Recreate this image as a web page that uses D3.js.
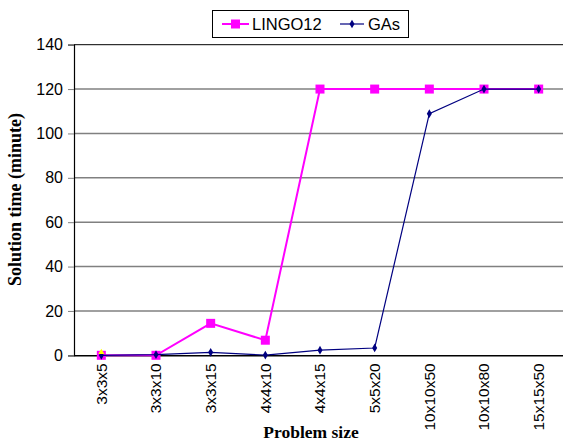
<!DOCTYPE html>
<html>
<head>
<meta charset="utf-8">
<script src="https://cdn.jsdelivr.net/npm/d3@7"></script>
<style>
  body { margin: 0; background: #fff; }
  svg { display: block; }
</style>
</head>
<body>
<svg id="chart" width="563" height="442"></svg>
<script>
const categories = ['3x3x5', '3x3x10', '3x3x15', '4x4x10', '4x4x15', '5x5x20', '10x10x50', '10x10x80', '15x15x50'];
const lingo = [0, 0, 14.4, 6.8, 120, 120, 120, 120, 120];
const gas = [0, 0.3, 1.35, 0.1, 2.3, 3.3, 108.9, 120, 120];
const extra = [0]; // lone yellow marker at the first category
const yTicks = [0, 20, 40, 60, 80, 100, 120, 140];

const sans = '"Liberation Sans", Arial, sans-serif';
const serif = '"Liberation Serif", "Times New Roman", serif';

const svg = d3.select('#chart');
const plotLeft = 74, plotRight = 566, plotTop = 44.7, plotBottom = 355.3;

const x = d3.scaleBand().domain(categories).range([plotLeft, plotRight]);
const y = d3.scaleLinear().domain([0, 140]).range([plotBottom, plotTop]);
const cx = d => x(d) + x.bandwidth() / 2;

// gridlines
svg.append('g')
  .selectAll('line')
  .data(yTicks.filter(t => t > 0))
  .enter().append('line')
  .attr('x1', plotLeft).attr('x2', plotRight)
  .attr('y1', d => y(d)).attr('y2', d => y(d))
  .attr('stroke', d => d === 140 ? '#000' : '#808080')
  .attr('stroke-width', d => d === 140 ? 1 : 1.6);

// Y axis
const yAxis = svg.append('g')
  .attr('transform', `translate(${plotLeft},0)`)
  .call(d3.axisLeft(y).tickValues(yTicks).tickSize(6).tickPadding(5));
yAxis.select('.domain').attr('stroke', '#000').attr('stroke-width', 1.2);
yAxis.selectAll('.tick line').attr('stroke', '#808080');
yAxis.selectAll('text')
  .attr('font-family', sans)
  .attr('font-size', 16).attr('fill', '#000');

// X axis
const xAxis = svg.append('g')
  .attr('transform', `translate(0,${plotBottom})`)
  .call(d3.axisBottom(x).tickSize(0).tickPadding(0));
xAxis.select('.domain').attr('stroke', '#000').attr('stroke-width', 1.6);
xAxis.selectAll('text')
  .attr('font-family', sans)
  .attr('font-size', 15.5).attr('fill', '#000')
  .attr('transform', 'rotate(-90)')
  .attr('text-anchor', 'end')
  .attr('x', -8).attr('y', 0).attr('dy', '0.35em');

// axis titles
svg.append('text')
  .attr('transform', 'translate(21,199.5) rotate(-90)')
  .attr('text-anchor', 'middle')
  .attr('font-family', serif)
  .attr('font-weight', 'bold').attr('font-size', 18)
  .text('Solution time (minute)');
svg.append('text')
  .attr('x', 311).attr('y', 438)
  .attr('text-anchor', 'middle')
  .attr('font-family', serif)
  .attr('font-weight', 'bold').attr('font-size', 17.5)
  .text('Problem size');

const line = d3.line().x((d, i) => cx(categories[i])).y(d => y(d));

// LINGO12 series
svg.append('path').datum(lingo)
  .attr('d', line).attr('fill', 'none')
  .attr('stroke', '#FF00FF').attr('stroke-width', 2);
svg.append('g').selectAll('rect').data(lingo).enter().append('rect')
  .attr('x', (d, i) => cx(categories[i]) - 4.5)
  .attr('y', d => y(d) - 4.5)
  .attr('width', 9).attr('height', 9)
  .attr('fill', '#FF00FF');

// GAs series
svg.append('path').datum(gas)
  .attr('d', line).attr('fill', 'none')
  .attr('stroke', '#000080').attr('stroke-width', 1.2);
svg.append('g').selectAll('path').data(gas).enter().append('path')
  .attr('d', d3.symbol(d3.symbolDiamond, 22))
  .attr('transform', (d, i) => `translate(${cx(categories[i])},${y(d)})`)
  .attr('fill', '#000080');

// yellow marker
svg.append('g').selectAll('path').data(extra).enter().append('path')
  .attr('d', d3.symbol(d3.symbolTriangle, 16))
  .attr('transform', (d, i) => `translate(${cx(categories[i])},${y(d) - 3})`)
  .attr('fill', '#FFFF00');

// legend
const lg = svg.append('g');
lg.append('rect')
  .attr('x', 212.5).attr('y', 10.5).attr('width', 196).attr('height', 27)
  .attr('fill', '#fff').attr('stroke', '#000').attr('stroke-width', 1);
lg.append('line').attr('x1', 222).attr('x2', 249).attr('y1', 24).attr('y2', 24)
  .attr('stroke', '#FF00FF').attr('stroke-width', 2);
lg.append('rect').attr('x', 231).attr('y', 19.5).attr('width', 9).attr('height', 9)
  .attr('fill', '#FF00FF');
lg.append('text').attr('x', 252).attr('y', 30)
  .attr('font-family', sans).attr('font-size', 16.5)
  .text('LINGO12');
lg.append('line').attr('x1', 340).attr('x2', 364).attr('y1', 24).attr('y2', 24)
  .attr('stroke', '#000080').attr('stroke-width', 1.2);
lg.append('path').attr('d', d3.symbol(d3.symbolDiamond, 22))
  .attr('transform', 'translate(352,24)').attr('fill', '#000080');
lg.append('text').attr('x', 368).attr('y', 30)
  .attr('font-family', sans).attr('font-size', 16.5)
  .text('GAs');
</script>
</body>
</html>
